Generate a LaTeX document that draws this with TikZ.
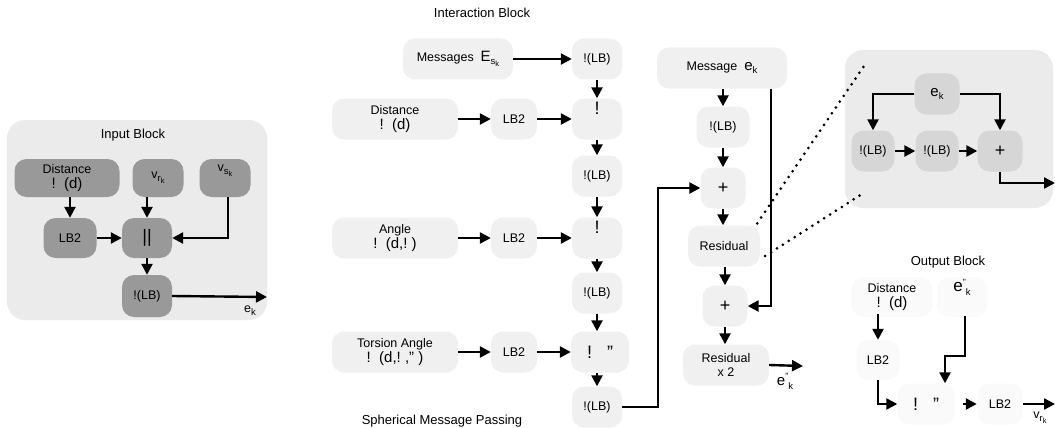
\documentclass[tikz,border=0pt]{standalone}
\usepackage{fontspec}
\setmainfont{Liberation Sans}
\definecolor{boxdark}{HTML}{999999}
\definecolor{boxmid}{HTML}{D6D6D6}
\definecolor{boxlight}{HTML}{F0F0F0}
\definecolor{boxfaint}{HTML}{FAFAFA}
\definecolor{panelbg}{HTML}{EBEBEB}
\usetikzlibrary{arrows.meta}
\usetikzlibrary{calc}
\usetikzlibrary{positioning}
\tikzset{
  box/.style={rounded corners=12pt, inner sep=0, align=center,
    minimum height=41pt, minimum width=50pt,
    font=\fontsize{12.5}{14.5}\selectfont},
  darkbox/.style={box, fill=boxdark},
  midbox/.style={box, fill=boxmid},
  lightbox/.style={box, fill=boxlight},
  faintbox/.style={box, fill=boxfaint},
  panel/.style={rounded corners=18pt, fill=panelbg, inner sep=0},
  title/.style={font=\fontsize{13}{15}\selectfont},
  lbl/.style={font=\fontsize{12.5}{14.5}\selectfont, inner sep=0},
  arrow/.style={-{Triangle[length=11pt,width=11pt]}, line width=2.4pt},
  dotline/.style={line width=3pt, line cap=round, dash pattern=on 0pt off 7pt}
}
\newcommand{\subs}[1]{\raisebox{-3pt}{\fontsize{9.5}{9.5}\selectfont #1}}
\newcommand{\subsub}[1]{\raisebox{-2pt}{\fontsize{7.5}{7.5}\selectfont #1}}
\newcommand{\bigtxt}[1]{{\fontsize{15}{17}\selectfont #1}}
\newcommand{\symtxt}[1]{{\fontsize{18}{18}\selectfont #1}}
\newcommand{\vrk}{v\subs{r\subsub{k}}}
\newcommand{\vsk}{v\subs{s\subsub{k}}}
\newcommand{\ekk}{e\subs{k}}
\newcommand{\ekpp}{e\raisebox{6pt}{\fontsize{9}{9}\selectfont"}\raisebox{-4pt}{\fontsize{9.5}{9.5}\selectfont k}}

\begin{document}
\begin{tikzpicture}[x=1pt,y=-1pt]
  \useasboundingbox (0,0) rectangle (1055,428);

  % input block
  \node[panel, minimum width=260pt, minimum height=200pt] (inbg) at (137,220) {};
  \node[title] (intitle) at (133,135) {Input Block};
  \node[darkbox, minimum width=105pt, minimum height=38pt] (indist) at (67,178) {Distance\\\bigtxt{!~~(d)}};
  \node[darkbox, minimum width=51pt, minimum height=38pt] (invr) at (158,178) {\vrk};
  \node[darkbox, minimum width=51pt, minimum height=38pt] (invs) at (225,178) {\vsk\\[6pt]};
  \node[darkbox, minimum width=53pt, minimum height=40pt] (inlb) at (70,238) {LB2};
  \node[darkbox, minimum height=40pt] (incat) at (147,238) {\symtxt{||}};
  \node[darkbox, minimum height=42pt] (inmlp) at (147,296) {!(LB)};
  \coordinate (inout) at (267,297);
  \node[lbl] (inek) at (250,311) {\ekk};

  \draw[arrow] (indist.south -| inlb.north) -- (inlb.north);
  \draw[arrow] (incat.north |- invr.south) -- (incat.north);
  \draw[arrow] ([xshift=3pt]invs.south) |- (incat.east);
  \draw[arrow] (inlb) -- (incat);
  \draw[arrow] (incat) -- (inmlp);
  \draw[arrow] (inmlp.east) -- (inout);

  % interaction block
  \node[title] (intertitle) at (482,13) {Interaction Block};
  \node[lightbox, minimum width=110pt] (msgs) at (458,59) {Messages~~\bigtxt{E}\subs{s\subsub{k}}};
  \node[lightbox] (imlp1) at (597,59) {!(LB)};
  \node[lightbox, minimum width=126pt] (dist) at (395,119) {Distance\\\bigtxt{!~~(d)}};
  \node[lightbox, minimum width=46pt] (dlb) at (514,119) {LB2};
  \node[lightbox] (dprod) at (597,119) {\symtxt{!}\\[6pt]};
  \node[lightbox] (imlp2) at (597,176) {!(LB)};
  \node[lightbox, minimum width=126pt] (ang) at (395,238) {Angle\\\bigtxt{!~~(d,!~)}};
  \node[lightbox, minimum width=46pt] (alb) at (514,238) {LB2};
  \node[lightbox] (aprod) at (597,238) {\symtxt{!}\\[6pt]};
  \node[lightbox] (imlp3) at (597,293) {!(LB)};
  \node[lightbox, minimum width=126pt] (tor) at (395,352) {Torsion Angle\\\bigtxt{!~~(d,!~,"~)}};
  \node[lightbox, minimum width=46pt] (tlb) at (514,352) {LB2};
  \node[lightbox, minimum width=58pt] (tprod) at (600,352) {\symtxt{!~~~"}};
  \node[lightbox] (imlp4) at (597,407) {!(LB)};
  \node[title] (smptitle) at (442,421) {Spherical Message Passing};

  \draw[arrow] (msgs) -- (imlp1);
  \draw[arrow] (imlp1) -- (dprod);
  \draw[arrow] (dist) -- (dlb);
  \draw[arrow] (dlb) -- (dprod);
  \draw[arrow] (dprod) -- (imlp2);
  \draw[arrow] (imlp2) -- (aprod);
  \draw[arrow] (ang) -- (alb);
  \draw[arrow] (alb) -- (aprod);
  \draw[arrow] (aprod) -- (imlp3);
  \draw[arrow] (imlp3) -- (imlp3 |- tprod.north);
  \draw[arrow] (tor) -- (tlb);
  \draw[arrow] (tlb) -- (tprod);
  \draw[arrow] (imlp4 |- tprod.south) -- (imlp4);

  % residual column
  \node[lightbox, minimum width=130pt] (msg) at (722,68) {Message~~\bigtxt{e}\subs{k}};
  \node[lightbox, minimum width=53pt] (rmlp) at (723,127) {!(LB)};
  \node[lightbox, minimum width=45pt] (plus1) at (723,188) {\symtxt{+}};
  \node[lightbox, minimum width=72pt] (resid) at (724,246) {Residual};
  \node[lightbox, minimum width=45pt] (plus2) at (725,306) {\symtxt{+}};
  \node[lightbox, minimum width=86pt] (resid2) at (726,365) {Residual\\x 2};
  \coordinate (resout) at (803,366);
  \node[lbl] (resek) at (785,381) {\bigtxt{\ekpp}};

  \draw[arrow] (imlp4.east) -- ++(36,0) |- (plus1.west);
  \draw[arrow] (msg.south -| rmlp.north) -- (rmlp.north);
  \draw[arrow] (rmlp) -- (plus1);
  \draw[arrow] (plus1.south) -- (plus1.south |- resid.north);
  \draw[arrow] (resid.south -| plus2.north) -- (plus2.north);
  \draw[arrow] (plus2.south) -- (plus2.south |- resid2.north);
  \draw[arrow] ([xshift=49pt]msg.south) |- (plus2.east);
  \draw[arrow] (resid2.east) -- (resout);

  % zoomed residual
  \node[panel, minimum width=208pt, minimum height=158pt] (zoombg) at (949,129) {};
  \node[midbox, minimum width=45pt] (zek) at (937,94) {\bigtxt{e}\subs{k}};
  \node[midbox, minimum width=43pt] (zmlp1) at (873,151) {!(LB)};
  \node[midbox, minimum width=43pt] (zmlp2) at (937,151) {!(LB)};
  \node[midbox, minimum width=45pt] (zplus) at (1000,151) {\symtxt{+}};
  \coordinate (zout) at (1055,183);

  \draw[arrow] (zek.west) -| (zmlp1.north);
  \draw[arrow] (zek.east) -| (zplus.north);
  \draw[arrow] (zmlp1) -- (zmlp2);
  \draw[arrow] (zmlp2) -- (zplus);
  \draw[arrow] (zplus.south) |- (zout);

  \draw[dotline] ([shift={(-3,-2)}]resid.north east) -- ([shift={(20,15)}]zoombg.north west);
  \draw[dotline] ([shift={(5,10)}]resid.east) -- ([shift={(20,-16)}]zoombg.south west);

  % output block
  \node[title] (outtitle) at (948,262) {Output Block};
  \node[faintbox, minimum width=81pt, minimum height=40pt] (odist) at (892,297) {Distance\\\bigtxt{!~~(d)}};
  \node[faintbox, minimum width=50pt, minimum height=40pt] (oek) at (962,297) {\fontsize{17}{17}\selectfont\ekpp\\[8pt]};
  \node[faintbox, minimum width=43pt, minimum height=40pt] (olb) at (878,360) {LB2};
  \node[faintbox, minimum width=57pt] (oprod) at (926,404) {\symtxt{!~~~"}};
  \node[faintbox, minimum width=46pt] (olb2) at (1000,404) {LB2};
  \coordinate (oout) at (1055,404);
  \node[lbl] (ovr) at (1040,418) {\vrk};

  \draw[arrow] ([yshift=3pt]odist.south -| olb.north) -- (olb.north);
  \draw[arrow] (olb.south) |- (oprod.west);
  \draw[arrow] ([xshift=3pt,yshift=1pt]oek.south) -- ++(0,40) -| ([xshift=19pt]oprod.north);
  \draw[arrow] ([xshift=8pt]oprod.east) -- (olb2.west);
  \draw[arrow] (olb2.east) -- (oout);
\end{tikzpicture}
\end{document}
